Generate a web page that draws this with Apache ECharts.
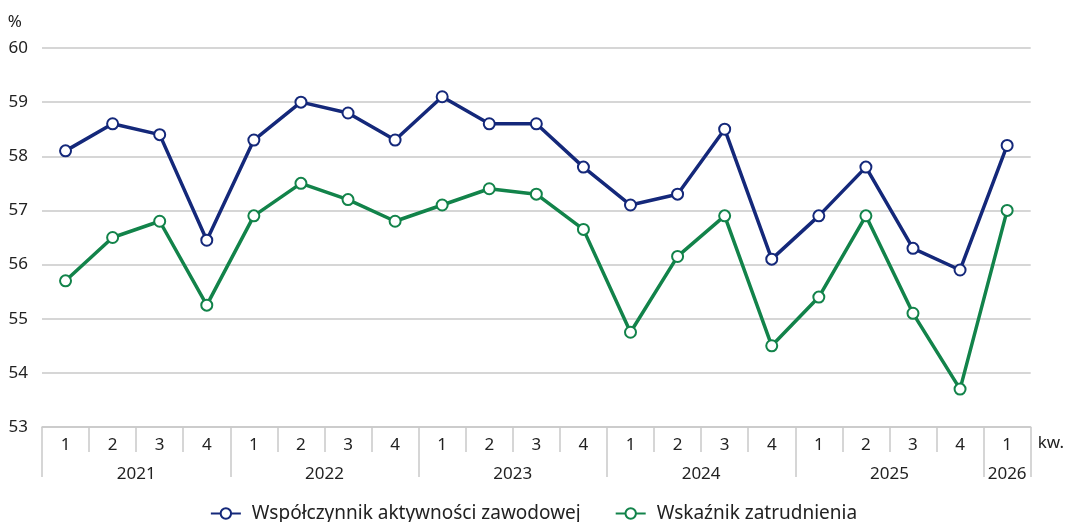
<!DOCTYPE html>
<html>
<head>
<meta charset="utf-8">
<script src="https://cdn.jsdelivr.net/npm/echarts@6/dist/echarts.min.js"></script>
<style>
html,body{margin:0;padding:0;background:#fff;}
#main{width:1067px;height:522px;}
</style>
</head>
<body>
<div id="main"></div>
<script>
const quarters = ['1','2','3','4','1','2','3','4','1','2','3','4','1','2','3','4','1','2','3','4','1'];
const years = ['2021','2022','2023','2024','2025','2026'];
const quartersPerYear = [4,4,4,4,4,1];
const activityRate = [58.1,58.6,58.4,56.45,58.3,59.0,58.8,58.3,59.1,58.6,58.6,57.8,57.1,57.3,58.5,56.1,56.9,57.8,56.3,55.9,58.2];
const employmentRate = [55.7,56.5,56.8,55.25,56.9,57.5,57.2,56.8,57.1,57.4,57.3,56.65,54.75,56.15,56.9,54.5,55.4,56.9,55.1,53.7,57.0];
const seriesNames = ['Współczynnik aktywności zawodowej','Wskaźnik zatrudnienia'];
const yTicks = {min:53, max:60, interval:1};

// Half-quarter grid for the year row (boundaryGap false): positions 0..2*N
const nQ = quarters.length;
const halfSlots = [];
for (let i = 0; i <= 2*nQ; i++) halfSlots.push('');
const yearBounds = new Set([0]);
const yearCenters = {};
let acc = 0;
years.forEach((y,i)=>{
  const start = acc; acc += quartersPerYear[i];
  yearBounds.add(2*acc);
  yearCenters[start + acc] = y;
});
for (const k in yearCenters) halfSlots[k] = yearCenters[k];

const font = 'Noto Sans';
const chart = echarts.init(document.getElementById('main'));
const gridCol = '#c9c9c9';
chart.setOption({
  backgroundColor:'#ffffff',
  textStyle:{fontFamily:font},
  grid:{left:42,right:34,top:48,bottom:95,containLabel:false},
  legend:{
    top:499, left:'center', itemWidth:30, itemHeight:13, itemGap:34,
    textStyle:{fontSize:19,color:'#222',fontFamily:font,padding:[0,0,0,6]},
    data:seriesNames
  },
  xAxis:[{
    type:'category', data:quarters, boundaryGap:true,
    axisLine:{show:true,lineStyle:{color:gridCol,width:1.5}},
    axisTick:{show:true,interval:0,length:25,lineStyle:{color:gridCol,width:1.5}},
    axisLabel:{interval:0,margin:10,fontSize:17,color:'#222',fontFamily:font},
    splitLine:{show:false},
    name:'kw.', nameLocation:'end', nameGap:7,
    nameTextStyle:{fontSize:17,color:'#222',verticalAlign:'top',padding:[8,0,0,0],fontFamily:font}
  },{
    type:'category', data:halfSlots, boundaryGap:false, position:'bottom',
    axisLine:{show:false},
    axisTick:{show:true,length:50,interval:(i)=>yearBounds.has(i),lineStyle:{color:gridCol,width:1.5}},
    axisLabel:{interval:(i,v)=>v!=='',margin:39,fontSize:17,color:'#222',fontFamily:font},
    splitLine:{show:false}
  }],
  yAxis:{
    type:'value', min:yTicks.min, max:yTicks.max, interval:yTicks.interval,
    axisLine:{show:false}, axisTick:{show:false},
    axisLabel:{margin:14,fontSize:17,color:'#222',fontFamily:font},
    splitLine:{lineStyle:{color:gridCol,width:1.5}},
    name:'%', nameLocation:'end', nameGap:17,
    nameTextStyle:{fontSize:17,color:'#222',align:'right',padding:[0,20,0,0],fontFamily:font}
  },
  series:[{
    name:seriesNames[0], type:'line', data:activityRate, xAxisIndex:0,
    symbol:'circle', symbolSize:11, showAllSymbol:true,
    lineStyle:{color:'#14287a',width:3.5},
    itemStyle:{color:'#ffffff',borderColor:'#14287a',borderWidth:2},
    z:3
  },{
    name:seriesNames[1], type:'line', data:employmentRate, xAxisIndex:0,
    symbol:'circle', symbolSize:11, showAllSymbol:true,
    lineStyle:{color:'#12834a',width:3.5},
    itemStyle:{color:'#ffffff',borderColor:'#12834a',borderWidth:2},
    z:3
  }]
});
</script>
</body>
</html>
